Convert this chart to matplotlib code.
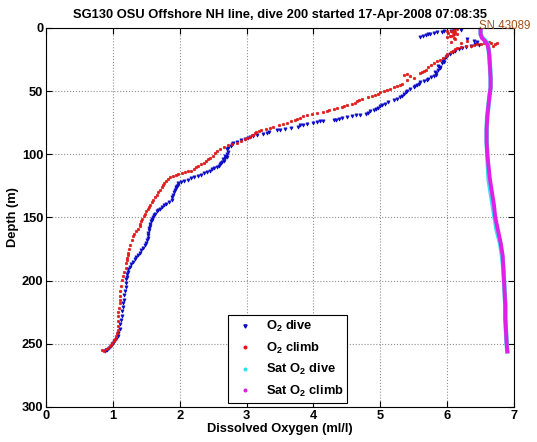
import matplotlib
matplotlib.use("Agg")
import matplotlib.pyplot as plt
from matplotlib.lines import Line2D

# ---------------- data ----------------
title = "SG130 OSU Offshore NH line, dive 200 started 17-Apr-2008 07:08:35"
serial_label = "SN 43089"
x_label = "Dissolved Oxygen (ml/l)"
y_label = "Depth (m)"
x_ticks = [0, 1, 2, 3, 4, 5, 6, 7]
y_ticks = [0, 50, 100, 150, 200, 250, 300]
legend_labels = ["O$_2$ dive", "O$_2$ climb", "Sat O$_2$ dive", "Sat O$_2$ climb"]

dive_depth = [1.5, 2, 2.5, 3.4, 4, 4.7, 5.5, 6.8, 9, 11, 12.6, 14, 16, 18, 20.5, 23,
              25.8, 28, 31, 33, 36, 38, 40, 42, 44, 47, 49.5, 52, 55, 57, 60, 62, 64,
              66, 68, 69, 70.5, 72, 73, 73.5, 75, 75.8, 78, 79.8, 81, 82.3, 84, 85, 86,
              88, 90, 93.5, 96, 100, 103, 105, 108, 110, 112, 114, 116, 118, 120, 121,
              123, 126, 128.6, 132, 136, 139, 141.6, 144, 147, 150, 152, 155, 158.5, 162,
              166, 170.5, 174, 178, 181, 185, 189, 193, 197, 202, 208, 215, 221, 228,
              234, 241.6, 246, 249.5, 252, 254.7, 255.5,
              3, 5, 6, 1.8, 10, 13.5, 15, 17, 19, 22, 24.5, 27, 30, 32, 35, 37, 39, 41,
              43, 45, 46, 48, 50.5, 53.5, 56, 58.5, 61, 63, 65, 67, 68.5, 69.5, 71.5,
              72.5, 74, 74.5, 76.5, 77, 79, 80.5, 83, 85.5, 87, 89, 91, 92, 95, 98, 101,
              102, 104, 106, 107, 109, 111, 113, 115, 117, 119, 122, 124, 125, 127, 130,
              134, 138, 140, 143, 145, 148, 151, 153, 157, 160, 164, 168, 172, 176, 180,
              183, 187, 191, 195, 199, 205, 211, 218, 224, 231, 238, 244, 248, 250.5,
              253.5, 255]
dive_o2 = [6.20, 5.95, 6.05, 5.85, 5.80, 5.75, 5.68, 5.60, 6.30, 6.45, 6.42, 6.35, 6.22,
           6.12, 6.04, 5.98, 5.94, 5.92, 5.89, 5.86, 5.84, 5.80, 5.72, 5.65, 5.58, 5.50,
           5.40, 5.35, 5.30, 5.20, 5.07, 5.00, 4.93, 4.85, 4.78, 4.64, 4.50, 4.38, 4.30,
           4.15, 4.00, 3.91, 3.77, 3.58, 3.45, 3.34, 3.25, 3.15, 3.05, 2.98, 2.85, 2.76,
           2.70, 2.70, 2.68, 2.66, 2.60, 2.56, 2.48, 2.41, 2.32, 2.22, 2.12, 2.07, 1.98,
           1.95, 1.93, 1.90, 1.88, 1.80, 1.73, 1.68, 1.63, 1.60, 1.58, 1.56, 1.54, 1.53,
           1.52, 1.50, 1.45, 1.40, 1.35, 1.30, 1.25, 1.22, 1.21, 1.20, 1.18, 1.16, 1.15,
           1.13, 1.11, 1.08, 1.05, 1.00, 0.97, 0.91, 0.88,
           5.92, 5.72, 5.64, 6.10, 6.40, 6.48, 6.28, 6.18, 6.08, 6.00, 5.96, 5.95, 5.87,
           5.90, 5.82, 5.83, 5.76, 5.70, 5.60, 5.55, 5.52, 5.45, 5.38, 5.33, 5.25, 5.12,
           5.03, 4.97, 4.90, 4.82, 4.70, 4.58, 4.42, 4.34, 4.10, 4.05, 3.85, 3.80, 3.66,
           3.50, 3.30, 3.10, 3.02, 2.92, 2.80, 2.78, 2.72, 2.72, 2.67, 2.70, 2.64, 2.63,
           2.62, 2.58, 2.52, 2.45, 2.36, 2.27, 2.17, 2.02, 1.97, 1.96, 1.94, 1.92, 1.89,
           1.84, 1.76, 1.70, 1.66, 1.61, 1.59, 1.57, 1.55, 1.54, 1.52, 1.51, 1.48, 1.42,
           1.37, 1.33, 1.27, 1.23, 1.21, 1.20, 1.19, 1.17, 1.15, 1.14, 1.12, 1.10, 1.07,
           1.02, 0.99, 0.94, 0.90]

climb_depth = [255, 254, 252, 249.5, 246, 241.6, 236, 228, 222, 215, 208, 199.5, 193, 186,
               182, 178, 172, 165, 161, 157, 153, 149, 145, 141.6, 138, 134, 130, 126,
               123, 119.5, 117, 115.6, 114, 113, 110, 108, 105, 102.6, 99, 96, 93, 91,
               88, 86, 84.4, 82.5, 81, 80, 78, 77, 75, 73, 71, 69, 67.5, 66.6, 65, 63.5,
               62.6, 61, 60, 58, 56, 55, 53, 51, 49, 47, 45, 37, 39.5, 36, 34, 31, 28, 25,
               22, 19, 17, 15, 14, 13, 12, 11.5, 13, 12, 11, 6, 5, 4, 3, 2, 1, 7, 8,
               255.5, 253, 251, 248, 244, 239, 232, 225, 218, 212, 204, 196, 190, 184,
               180, 175, 168, 163, 159, 155, 151, 147, 143, 140, 136, 132, 128, 124.5,
               121, 118, 116.5, 115, 113.5, 111.5, 109, 106.5, 104, 101, 97.5, 94.5, 92,
               89.5, 87, 85, 83.5, 81.5, 79, 76, 74, 72, 70, 68, 66, 64, 62, 59, 57, 54,
               52, 50, 48, 46, 44, 36.5, 38, 41, 35, 33, 29.5, 26.5, 23.5, 20.5, 18, 16,
               14.5, 13.5, 12.5, 11, 14, 10, 12, 5.5, 4.5, 3.5, 2.5, 1.5, 6.5, 9]
climb_o2 = [0.84, 0.90, 0.95, 0.99, 1.03, 1.06, 1.07, 1.08, 1.09, 1.10, 1.11, 1.13, 1.17,
            1.20, 1.21, 1.23, 1.26, 1.30, 1.35, 1.40, 1.42, 1.46, 1.50, 1.54, 1.58, 1.63,
            1.68, 1.73, 1.77, 1.83, 1.90, 1.98, 2.08, 2.17, 2.25, 2.32, 2.40, 2.46, 2.53,
            2.60, 2.72, 2.85, 2.98, 3.05, 3.10, 3.14, 3.22, 3.29, 3.40, 3.48, 3.60, 3.72,
            3.80, 3.90, 4.05, 4.14, 4.24, 4.35, 4.43, 4.50, 4.58, 4.65, 4.72, 4.82, 4.92,
            5.00, 5.10, 5.20, 5.30, 5.36, 5.50, 5.60, 5.65, 5.72, 5.80, 5.90, 5.98, 6.05,
            6.12, 6.20, 6.35, 6.45, 6.55, 6.65, 6.72, 6.75, 6.05, 6.05, 6.10, 6.02, 6.12,
            6.05, 6.15, 6.00, 6.10,
            0.86, 0.92, 0.97, 1.01, 1.05, 1.07, 1.08, 1.08, 1.10, 1.10, 1.12, 1.15, 1.19,
            1.21, 1.22, 1.24, 1.28, 1.32, 1.38, 1.41, 1.44, 1.48, 1.52, 1.56, 1.60, 1.66,
            1.70, 1.75, 1.80, 1.86, 1.94, 2.03, 2.12, 2.21, 2.28, 2.36, 2.43, 2.50, 2.56,
            2.66, 2.78, 2.92, 3.01, 3.08, 3.12, 3.18, 3.35, 3.54, 3.66, 3.76, 3.85, 3.98,
            4.20, 4.30, 4.46, 4.62, 4.68, 4.87, 4.96, 5.05, 5.15, 5.25, 5.32, 5.40, 5.45,
            5.40, 5.62, 5.68, 5.76, 5.85, 5.94, 6.00, 6.08, 6.15, 6.28, 6.40, 6.50, 6.62,
            6.68, 6.30, 6.20, 6.08, 6.14, 6.08, 6.00, 6.10, 6.04, 6.12]

sat_depth = [0, 5, 8, 10, 13, 17, 22, 30, 40, 47, 55, 60, 70, 80, 90, 100, 110, 120, 130,
             140, 150, 160, 170, 180, 190, 200, 210, 220, 230, 240, 250, 256]
sat_dive = [6.50, 6.50, 6.53, 6.57, 6.61, 6.62, 6.63, 6.64, 6.65, 6.65, 6.63, 6.62, 6.60,
            6.59, 6.59, 6.60, 6.61, 6.62, 6.65, 6.68, 6.71, 6.74, 6.79, 6.82, 6.84, 6.85,
            6.86, 6.87, 6.87, 6.88, 6.89, 6.90]
sat_climb = [6.50, 6.50, 6.52, 6.56, 6.60, 6.62, 6.63, 6.64, 6.65, 6.65, 6.63, 6.62, 6.60,
             6.59, 6.59, 6.60, 6.62, 6.64, 6.67, 6.70, 6.72, 6.76, 6.80, 6.83, 6.84, 6.85,
             6.86, 6.87, 6.87, 6.88, 6.89, 6.90]

# ---------------- styling ----------------
plt.rcParams['font.family'] = ['Liberation Sans', 'DejaVu Sans']
plt.rcParams['font.weight'] = 'bold'
plt.rcParams['mathtext.default'] = 'regular'

FS = 9.3
c_dive = '#0b0bc8'
c_climb = '#e01818'
c_sdive = '#33e0f0'
c_sclimb = '#e020e8'

fig = plt.figure(figsize=(5.37, 4.42), dpi=100)
ax = fig.add_axes([0.0857, 0.0792, 0.8715, 0.8575])

ax.plot(dive_o2, dive_depth, linestyle='none', marker='v', markersize=2.3,
        color=c_dive, markeredgewidth=0.5)
ax.plot(climb_o2, climb_depth, linestyle='none', marker='o', markersize=1.9,
        color=c_climb, markeredgewidth=0.4)
ax.plot(sat_dive, sat_depth, color=c_sdive, linewidth=3.2)
ax.plot(sat_climb, sat_depth, color=c_sclimb, linewidth=2.8)

ax.set_xlim(0, 7)
ax.set_ylim(300, 0)
ax.set_xticks(x_ticks)
ax.set_yticks(y_ticks)
ax.grid(True, linestyle=':', color='#909090', linewidth=0.8)
ax.tick_params(direction='in', top=True, right=True, length=4, labelsize=FS,
               width=0.8, pad=2)
for lab in ax.get_xticklabels() + ax.get_yticklabels():
    lab.set_fontweight('bold')
for s in ax.spines.values():
    s.set_linewidth(0.8)

ax.set_title(title, fontsize=FS, fontweight='bold', pad=7)
ax.set_xlabel(x_label, fontsize=FS, fontweight='bold', labelpad=1)
ax.set_ylabel(y_label, fontsize=FS, fontweight='bold', labelpad=2)
ax.text(1.034, 0.99, serial_label, transform=ax.transAxes, ha='right', va='bottom',
        fontsize=8.3, fontweight='normal', color='#a0501a')

handles = [
    Line2D([], [], linestyle='none', marker='v', markersize=2.3, color=c_dive),
    Line2D([], [], linestyle='none', marker='o', markersize=1.9, color=c_climb),
    Line2D([], [], linestyle='none', marker='o', markersize=1.9, color=c_sdive),
    Line2D([], [], linestyle='none', marker='o', markersize=1.9, color=c_sclimb),
]
leg = ax.legend(handles, legend_labels, loc='lower left', bbox_to_anchor=(0.389, 0.011),
                borderaxespad=0, fontsize=FS, frameon=True, fancybox=False,
                framealpha=1, edgecolor='black', borderpad=0.3, labelspacing=0.5,
                handlelength=2.0, handletextpad=0.6)
leg.get_frame().set_linewidth(0.8)
for t in leg.get_texts():
    t.set_fontweight('bold')

fig.savefig('out.png', dpi=100)
